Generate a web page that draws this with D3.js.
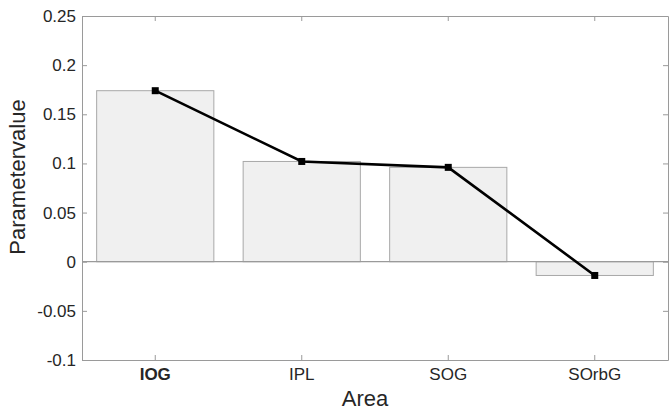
<!DOCTYPE html>
<html>
<head>
<meta charset="utf-8">
<script src="https://cdn.jsdelivr.net/npm/d3@7"></script>
<style>
  body { margin: 0; background: #fff; }
  svg { font-family: "Liberation Sans", Arial, Helvetica, sans-serif; }
  .axis path, .axis line { stroke: #9a9a9a; }
  .axis text { fill: #262626; font-size: 17px; }
</style>
</head>
<body>
<div id="chart"></div>
<script>
// data
var areas = ["IOG", "IPL", "SOG", "SOrbG"];
var barValues = [0.174, 0.102, 0.096, -0.014];
var lineValues = [0.174, 0.102, 0.096, -0.014];
var yTicks = [-0.1, -0.05, 0, 0.05, 0.1, 0.15, 0.2, 0.25];

var W = 669, H = 411;
var margin = {top: 16, right: 1, bottom: 51, left: 82},
    width = W - margin.left - margin.right,
    height = H - margin.top - margin.bottom;

var svg = d3.select("#chart")
  .append("svg")
    .attr("width", W)
    .attr("height", H);

var g = svg.append("g")
    .attr("transform", "translate(" + margin.left + "," + margin.top + ")");

var x = d3.scaleBand()
    .domain(areas)
    .range([0, width])
    .paddingInner(0.2)
    .paddingOuter(0.1);

var y = d3.scaleLinear()
    .domain([-0.1, 0.25])
    .range([height, 0]);

var fmt = function(d) { return String(+d.toFixed(2)); };

// bars
g.selectAll(".bar")
  .data(areas)
  .enter().append("rect")
    .attr("class", "bar")
    .attr("x", function(d) { return x(d); })
    .attr("width", x.bandwidth())
    .attr("y", function(d, i) { return y(Math.max(0, barValues[i])); })
    .attr("height", function(d, i) { return Math.abs(y(barValues[i]) - y(0)); })
    .attr("fill", "#f0f0f0")
    .attr("stroke", "#a8a8a8")
    .attr("stroke-width", 1);

// baseline
g.append("line")
    .attr("x1", 0).attr("x2", width)
    .attr("y1", y(0)).attr("y2", y(0))
    .attr("stroke", "#9a9a9a")
    .attr("stroke-width", 1.2);

// axes (ticks pointing inward)
var half = x.bandwidth() / 2;
var xBottom = g.append("g")
    .attr("class", "axis")
    .attr("transform", "translate(0," + height + ")")
    .call(d3.axisBottom(x).tickSize(-5).tickPadding(7).tickSizeOuter(0));
xBottom.selectAll(".tick text")
    .attr("dy", "0.75em")
    .style("font-weight", function(d, i) { return i === 0 ? "bold" : "normal"; });

g.append("g")
    .attr("class", "axis")
    .call(d3.axisTop(x).tickSize(-5).tickSizeOuter(0).tickFormat(""));

g.append("g")
    .attr("class", "axis")
    .call(d3.axisLeft(y).tickValues(yTicks).tickFormat(fmt).tickSize(-5).tickPadding(6).tickSizeOuter(0));

g.append("g")
    .attr("class", "axis")
    .attr("transform", "translate(" + width + ",0)")
    .call(d3.axisRight(y).tickValues(yTicks).tickFormat("").tickSize(-5).tickSizeOuter(0));

// line + square markers
var line = d3.line()
    .x(function(d, i) { return x(areas[i]) + half; })
    .y(function(d) { return y(d); });

g.append("path")
    .datum(lineValues)
    .attr("fill", "none")
    .attr("stroke", "#000")
    .attr("stroke-width", 2.6)
    .attr("d", line);

g.selectAll(".marker")
  .data(lineValues)
  .enter().append("rect")
    .attr("class", "marker")
    .attr("x", function(d, i) { return x(areas[i]) + half - 3.5; })
    .attr("y", function(d) { return y(d) - 3.5; })
    .attr("width", 7)
    .attr("height", 7)
    .attr("fill", "#000");

// axis titles
svg.append("text")
    .attr("x", 365)
    .attr("y", 406)
    .attr("text-anchor", "middle")
    .attr("fill", "#262626")
    .style("font-size", "22px")
    .text("Area");

svg.append("text")
    .attr("transform", "translate(25,177) rotate(-90)")
    .attr("text-anchor", "middle")
    .attr("fill", "#262626")
    .style("font-size", "22px")
    .text("Parametervalue");
</script>
</body>
</html>
